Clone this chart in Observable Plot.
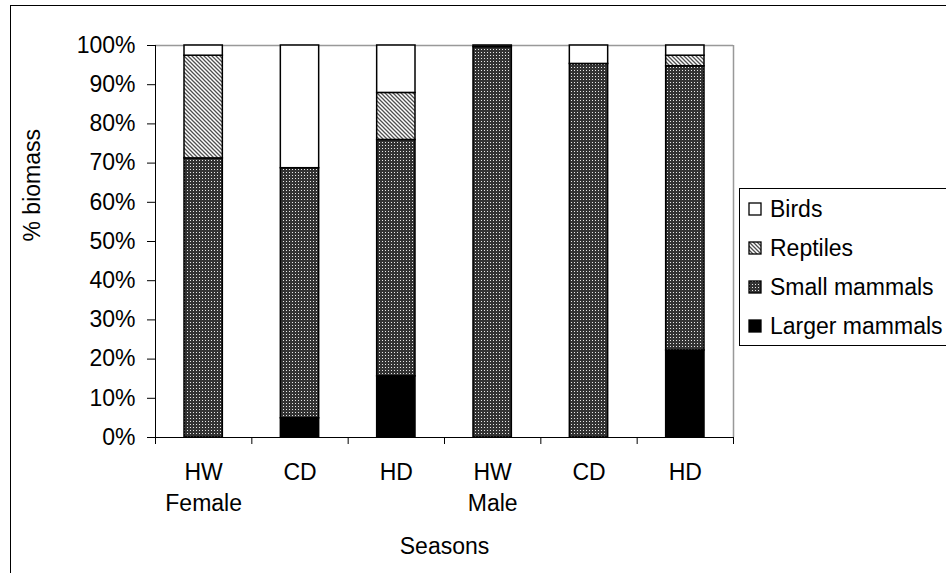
<!DOCTYPE html>
<html>
<head>
<meta charset="utf-8">
<script src="https://cdn.jsdelivr.net/npm/d3@7"></script>
<script src="https://cdn.jsdelivr.net/npm/@observablehq/plot@0.6"></script>
<style>
  html, body { margin: 0; padding: 0; background: #fff; overflow: hidden; }
  body { width: 946px; height: 573px; position: relative; font-family: "Liberation Sans", Arial, sans-serif; }
  #frame { position: absolute; left: 10px; top: 5px; width: 1000px; height: 650px; border: 1px solid #000; box-sizing: border-box; }
  #chart { position: absolute; left: 0; top: 0; }
  #legend { position: absolute; left: 739px; top: 188px; width: 260px; height: 158px; border: 1px solid #000; box-sizing: border-box; background: #fff; }
  .item { position: absolute; left: 8px; height: 24px; display: flex; align-items: center; font-size: 23px; color: #000; white-space: nowrap; }
  .item svg { margin-right: 8px; }
</style>
</head>
<body>
<svg width="0" height="0" style="position:absolute">
  <defs>
    <pattern id="p-small" patternUnits="userSpaceOnUse" width="3" height="3">
      <rect width="3" height="3" fill="#333"></rect>
      <rect x="1" y="1" width="1" height="1" fill="#e8e8e8"></rect>
    </pattern>
    <pattern id="p-rept" patternUnits="userSpaceOnUse" width="4" height="4">
      <rect width="4" height="4" fill="#fff"></rect>
      <path d="M-1,-1 L5,5 M-1,3 L1,5 M3,-1 L5,1" stroke="#505050" stroke-width="1.3"></path>
    </pattern>
  </defs>
</svg>
<div id="frame"></div>
<div id="chart"></div>
<div id="legend"></div>
<script>
const seasons = ["HW", "CD", "HD", "HW", "CD", "HD"];
const sexes = ["Female", "", "", "Male", "", ""];
const seriesNames = ["Larger mammals", "Small mammals", "Reptiles", "Birds"];
const larger = [0, 4.9, 15.6, 0, 0, 22.2];
const small = [71.2, 63.8, 60.3, 99.6, 95.3, 72.5];
const reptiles = [26.2, 0, 12.0, 0, 0, 2.7];
const birds = [2.6, 31.3, 12.1, 0.4, 4.7, 2.6];
const yTicks = [0, 10, 20, 30, 40, 50, 60, 70, 80, 90, 100];
const seriesFills = ["#000", "url(#p-small)", "url(#p-rept)", "#fff"];

const seriesValues = [larger, small, reptiles, birds];
const rows = [];
seasons.forEach((s, i) => {
  let base = 0;
  seriesNames.forEach((name, k) => {
    const v = seriesValues[k][i];
    if (v > 0) rows.push({i, name, y1: base, y2: base + v});
    base += v;
  });
});
const cats = seasons.map((s, i) => ({i, season: s, sex: sexes[i]}));

const font = "Liberation Sans, Arial, sans-serif";
const fs = 23;
const plot = Plot.plot({
  width: 946,
  height: 573,
  marginLeft: 155,
  marginRight: 213,
  marginTop: 45,
  marginBottom: 136,
  style: {background: "transparent", fontFamily: font, fontSize: fs + "px", color: "#000"},
  x: {domain: [0, seasons.length], axis: null},
  y: {domain: [0, 100], axis: null},
  color: {type: "ordinal", domain: seriesNames, range: seriesFills},
  marks: [
    Plot.ruleY([100], {stroke: "#999", strokeWidth: 1.5}),
    Plot.ruleX([seasons.length], {stroke: "#999", strokeWidth: 1.5}),
    Plot.rectY(rows, {
      x1: "i", x2: d => d.i + 1, y1: "y1", y2: "y2",
      fill: "name", stroke: "#000", strokeWidth: 1.5,
      insetLeft: 29, insetRight: 29
    }),
    Plot.axisY({ticks: yTicks, tickFormat: d => d + "%", tickSize: 8, tickPadding: 12, fontSize: fs, label: null, stroke: "#000"}),
    Plot.axisX({ticks: d3.range(seasons.length + 1), tickFormat: () => "", tickSize: 7, label: null, stroke: "#000"}),
    Plot.ruleX([0], {stroke: "#000", strokeWidth: 1}),
    Plot.ruleY([0], {stroke: "#000", strokeWidth: 1}),
    Plot.text(cats, {x: d => d.i + 0.5, y: () => 0, text: "season", dy: 35, fontSize: fs, fill: "#000"}),
    Plot.text(cats, {x: d => d.i + 0.5, y: () => 0, text: "sex", dy: 66, fontSize: fs, fill: "#000"}),
    Plot.text(["Seasons"], {frameAnchor: "bottom", dy: 116, fontSize: fs, fill: "#000"}),
    Plot.text(["% biomass"], {frameAnchor: "left", dx: -123, rotate: -90, fontSize: fs, fill: "#000"})
  ]
});
document.getElementById("chart").appendChild(plot);

// Legend (top to bottom: reverse of stacking order)
const legend = document.getElementById("legend");
const order = seriesNames.map((n, k) => k).reverse();
order.forEach((k, j) => {
  const div = document.createElement("div");
  div.className = "item";
  div.style.top = (8 + j * 39) + "px";
  div.innerHTML = `<svg width="14" height="14"><rect x="1" y="1" width="12" height="12" fill="${seriesFills[k]}" stroke="#000" stroke-width="1.3"></rect></svg><span>${seriesNames[k]}</span>`;
  legend.appendChild(div);
});
</script>
</body>
</html>
